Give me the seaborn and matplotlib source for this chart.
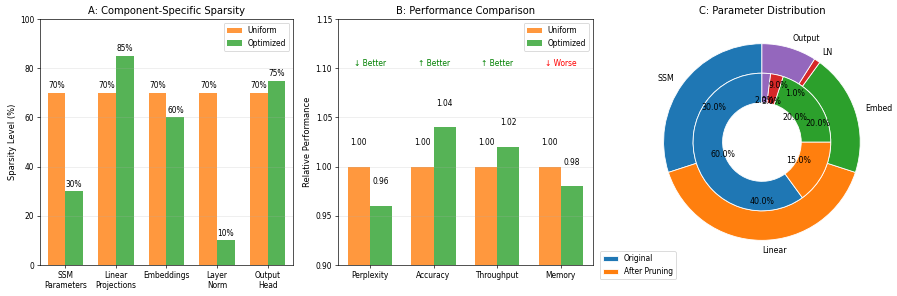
import numpy as np
import pandas as pd
import matplotlib
matplotlib.use('Agg')
import matplotlib.pyplot as plt
import seaborn as sns

# panel A data
components = ['SSM\nParameters', 'Linear\nProjections', 'Embeddings', 'Layer\nNorm', 'Output\nHead']
uniform_sparsity = [70, 70, 70, 70, 70]
optimized_sparsity = [30, 85, 60, 10, 75]

# panel B data
metrics = ['Perplexity', 'Accuracy', 'Throughput', 'Memory']
uniform_perf = [1.00, 1.00, 1.00, 1.00]
optimized_perf = [0.96, 1.04, 1.02, 0.98]
perf_notes = ['↓ Better', '↑ Better', '↑ Better', '↓ Worse']
note_colors = ['green', 'green', 'green', 'red']

# panel C data
param_groups = ['SSM', 'Linear', 'Embed', 'LN', 'Output']
original_share = [30, 40, 20, 1, 9]
pruned_share = [60, 15, 20, 3, 2]

methods = ['Uniform', 'Optimized']
palette = {'Uniform': '#ff7f0e', 'Optimized': '#2ca02c'}

plt.rcParams['font.size'] = 9
plt.rcParams['axes.labelsize'] = 10
plt.rcParams['axes.titlesize'] = 12
plt.rcParams['legend.fontsize'] = 9

df_a = pd.DataFrame({
    'component': components * 2,
    'value': uniform_sparsity + optimized_sparsity,
    'method': ['Uniform'] * len(components) + ['Optimized'] * len(components),
})
df_b = pd.DataFrame({
    'metric': metrics * 2,
    'value': uniform_perf + optimized_perf,
    'method': ['Uniform'] * len(metrics) + ['Optimized'] * len(metrics),
})

dpi = 60
fig = plt.figure(figsize=(897 / dpi, 296 / dpi), dpi=dpi)
ax1 = fig.add_axes([0.0446, 0.1047, 0.282, 0.831])
ax2 = fig.add_axes([0.3768, 0.1047, 0.284, 0.831])
ax3 = fig.add_axes([0.7124, 0.1047, 0.274, 0.831])

# A: component sparsity
sns.barplot(data=df_a, x='component', y='value', hue='method', hue_order=methods,
            palette=palette, width=0.7, saturation=1, alpha=0.8, ax=ax1)
for cont in ax1.containers:
    for bar in cont:
        h = bar.get_height()
        ax1.text(bar.get_x() + bar.get_width() / 2, h + 1, f'{h:.0f}%',
                 ha='center', va='bottom')
ax1.set_ylim(0, 100)
ax1.set_xlabel('')
ax1.set_ylabel('Sparsity Level (%)')
ax1.set_title('A: Component-Specific Sparsity')
ax1.legend(loc='upper right')
ax1.grid(axis='y', alpha=0.3)

# B: performance
sns.barplot(data=df_b, x='metric', y='value', hue='method', hue_order=methods,
            palette=palette, width=0.7, saturation=1, alpha=0.8, ax=ax2)
for cont in ax2.containers:
    for bar in cont:
        h = bar.get_height()
        ax2.text(bar.get_x() + bar.get_width() / 2, h + 0.02, f'{h:.2f}',
                 ha='center', va='bottom')
for i, (note, col) in enumerate(zip(perf_notes, note_colors)):
    ax2.text(i, 1.10, note, ha='center', va='bottom', color=col)
ax2.set_ylim(0.9, 1.15)
ax2.set_xlabel('')
ax2.set_ylabel('Relative Performance')
ax2.set_title('B: Performance Comparison')
ax2.legend(loc='upper right')
ax2.grid(axis='y', alpha=0.3)

# C: parameter distribution
pie_colors = sns.color_palette('tab10', 5)
outer, _, _ = ax3.pie(original_share, labels=param_groups, autopct='%1.1f%%', radius=1,
                      startangle=90, colors=pie_colors, textprops=dict(fontsize=9.5),
                      wedgeprops=dict(width=0.3, edgecolor='white'))
ax3.pie(pruned_share, autopct='%1.1f%%', radius=0.7, startangle=90, colors=pie_colors,
        textprops=dict(fontsize=9.5), wedgeprops=dict(width=0.3, edgecolor='white'))
ax3.set_title('C: Parameter Distribution')
ax3.legend([outer[0], outer[1]], ['Original', 'After Pruning'],
           loc='upper left', bbox_to_anchor=(-0.175, 0.07))

fig.savefig('out.png', dpi=dpi)
